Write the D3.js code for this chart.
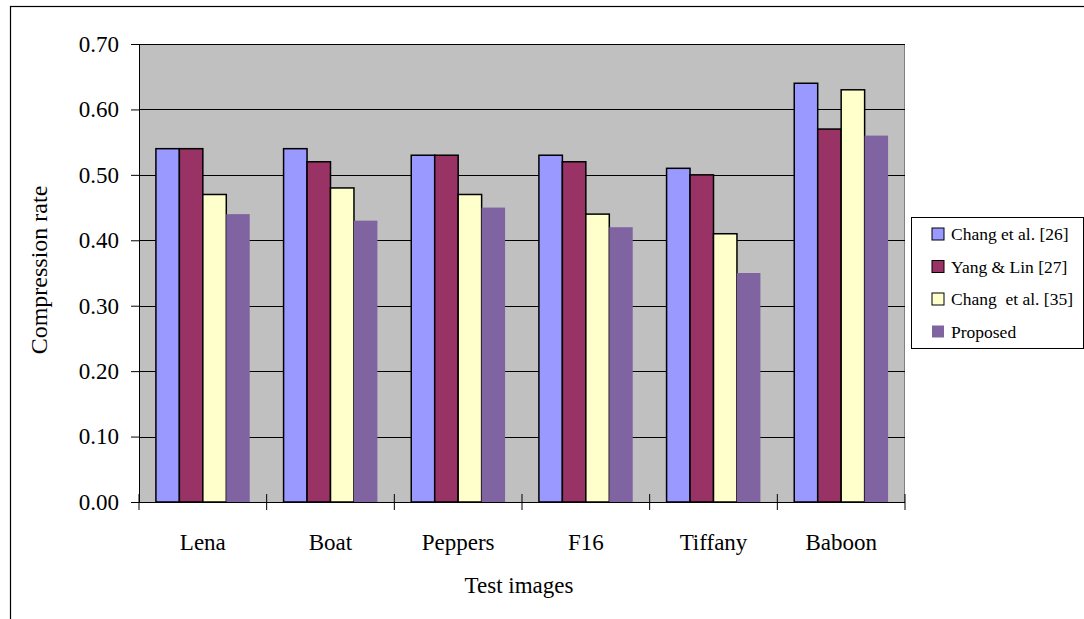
<!DOCTYPE html>
<html><head><meta charset="utf-8">
<script src="https://cdn.jsdelivr.net/npm/d3@7"></script>
<style>body{margin:0;background:#fff}svg{display:block}</style>
</head><body>
<svg id="c" width="1084" height="619"></svg>
<script>
const categories = ["Lena","Boat","Peppers","F16","Tiffany","Baboon"];
const seriesNames = ["Chang et al. [26]","Yang & Lin [27]","Chang\u00a0 et al. [35]","Proposed"];
const chang26 = [0.54,0.54,0.53,0.53,0.51,0.64];
const yangLin27 = [0.54,0.52,0.53,0.52,0.50,0.57];
const chang35 = [0.47,0.48,0.47,0.44,0.41,0.63];
const proposed = [0.44,0.43,0.45,0.42,0.35,0.56];
const yTicks = [0,0.1,0.2,0.3,0.4,0.5,0.6,0.7];
const colors = ["#9999FF","#993366","#FFFFCC","#8064A2"];
const strokes = ["#000","#000","#000","none"];
const seriesValues = [chang26,yangLin27,chang35,proposed];

const svg = d3.select("#c");
const font = "'Liberation Serif','Times New Roman',serif";
const L=139,R=905,T=44,B=502;

// outer border
svg.append("rect").attr("x",10.5).attr("y",6.5).attr("width",1090).attr("height",620)
  .attr("fill","none").attr("stroke","#000").attr("stroke-width",1.2);

const x0 = d3.scaleBand().domain(categories).range([L,R]).paddingInner(0.265).paddingOuter(0.1325);
const x1 = d3.scaleBand().domain(d3.range(4)).range([0,x0.bandwidth()]);
const y = d3.scaleLinear().domain([0,0.7]).range([B,T]);

svg.append("rect").attr("x",L).attr("y",T).attr("width",R-L).attr("height",B-T).attr("fill","#C0C0C0");
svg.append("line").attr("x1",R-0.5).attr("x2",R-0.5).attr("y1",T).attr("y2",B).attr("stroke","#808080");

svg.append("g").selectAll("line").data(yTicks.slice(1)).join("line")
  .attr("x1",L).attr("x2",R).attr("y1",d=>Math.round(y(d))+0.5).attr("y2",d=>Math.round(y(d))+0.5)
  .attr("stroke","#000").attr("stroke-width",1);

const g = svg.append("g");
categories.forEach((c,i)=>{
  seriesValues.forEach((vals,s)=>{
    const xx = x0(c)+x1(s);
    g.append("rect").attr("x",xx).attr("y",y(vals[i])).attr("width",x1.bandwidth())
      .attr("height",B-y(vals[i])).attr("fill",colors[s])
      .attr("stroke",strokes[s]).attr("stroke-width",1.5);
  });
});

// y axis
const ya = d3.axisLeft(y).tickValues(yTicks).tickFormat(d3.format(".2f")).tickSize(8).tickPadding(12);
const yg = svg.append("g").attr("transform",`translate(${L},0)`).call(ya);
yg.select(".domain").attr("stroke","#000");
yg.selectAll("text").attr("font-family",font).attr("font-size",23).attr("fill","#000");

// x axis
const xa = svg.append("g");
xa.append("line").attr("x1",L-8).attr("x2",R).attr("y1",B+0.5).attr("y2",B+0.5).attr("stroke","#000");
const bounds = d3.range(categories.length+1).map(i=>L+i*(R-L)/categories.length);
xa.selectAll("line.t").data(bounds).join("line").attr("class","t")
  .attr("x1",d=>d).attr("x2",d=>d).attr("y1",B-8).attr("y2",B+8).attr("stroke","#000");
xa.selectAll("text").data(categories).join("text")
  .attr("x",d=>x0(d)+x0.bandwidth()/2).attr("y",550).attr("text-anchor","middle")
  .attr("font-family",font).attr("font-size",23).text(d=>d);

svg.append("text").attr("x",519).attr("y",593).attr("text-anchor","middle")
  .attr("font-family",font).attr("font-size",23).text("Test images");
svg.append("text").attr("transform","translate(47,270) rotate(-90)").attr("text-anchor","middle")
  .attr("font-family",font).attr("font-size",24).text("Compression rate");

// legend
const lg = svg.append("g");
lg.append("rect").attr("x",911.5).attr("y",217.5).attr("width",172).attr("height",131)
  .attr("fill","#fff").attr("stroke","#000");
seriesNames.forEach((n,i)=>{
  const cy = 234+i*32.5;
  lg.append("rect").attr("x",932).attr("y",cy-6).attr("width",12).attr("height",12)
    .attr("fill",colors[i]).attr("stroke",strokes[i]).attr("stroke-width",1);
  lg.append("text").attr("x",951).attr("y",cy+6).attr("font-family",font).attr("font-size",17.5).text(n);
});
</script>
</body></html>
